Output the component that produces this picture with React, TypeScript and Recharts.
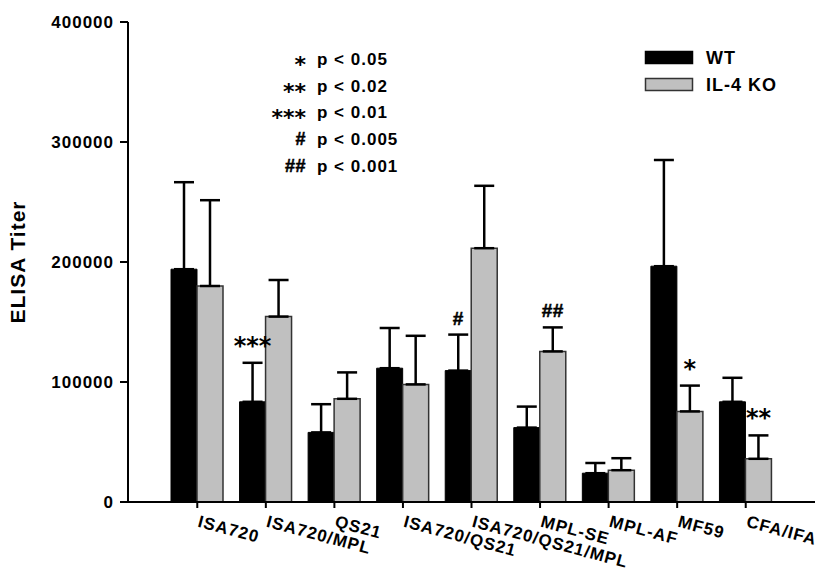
import { Bar, BarChart, ErrorBar, LabelList, XAxis, YAxis } from "recharts";

const categories = [
  "ISA720",
  "ISA720/MPL",
  "QS21",
  "ISA720/QS21",
  "ISA720/QS21/MPL",
  "MPL-SE",
  "MPL-AF",
  "MF59",
  "CFA/IFA",
];
const wtMean = [194000, 83500, 58000, 111500, 109500, 62000, 24000, 196500, 83500];
const wtErr = [72500, 32500, 23500, 33500, 30000, 17500, 8500, 88500, 20000];
const koMean = [180000, 154500, 86000, 98000, 211500, 125500, 26500, 75500, 36000];
const koErr = [71500, 30500, 22000, 40500, 52000, 20000, 10000, 21500, 19500];
const wtSig = ["", "***", "", "", "#", "", "", "", ""];
const koSig = ["", "", "", "", "", "##", "", "*", "**"];
const yTicks = [0, 100000, 200000, 300000, 400000];
const seriesNames = ["WT", "IL-4 KO"];
const seriesFill = ["#000", "#c0c0c0"];
const seriesStroke = ["#000", "#333"];
const keySymbols = ["*", "**", "***", "#", "##"];
const keyLabels = ["p < 0.05", "p < 0.02", "p < 0.01", "p < 0.005", "p < 0.001"];

const data = categories.map((name, i) => ({
  name,
  wt: wtMean[i],
  ko: koMean[i],
  wtErr: [0, wtErr[i]],
  koErr: [0, koErr[i]],
  wtSig: wtSig[i],
  koSig: koSig[i],
}));

const FONT = "'Liberation Sans', Arial, sans-serif";
const STAR_FONT = "'DejaVu Sans', sans-serif";

// marker above the error bar cap; pixel scale taken from the bar itself
function sigLabel(means: number[], errs: number[]) {
  return (props: any) => {
    const text = props.value;
    if (!text) return null;
    const vb = props.viewBox ?? props;
    const i = props.index;
    const top = Math.min(vb.y, vb.y + vb.height);
    const h = Math.abs(vb.height);
    const capY = top - errs[i] * (h / means[i]);
    const star = String(text).startsWith("*");
    return (
      <text
        x={vb.x + vb.width / 2}
        y={star ? capY - 9 : capY - 10}
        textAnchor="middle"
        fontFamily={star ? STAR_FONT : FONT}
        fontWeight="bold"
        fontSize={star ? 24 : 19}
        letterSpacing={star ? 0 : 0.5}
        stroke={star ? "none" : "#000"}
        strokeWidth={0.5}
        fill="#000"
      >
        {text}
      </text>
    );
  };
}

function XTick({ x, y, payload }: any) {
  return (
    <g transform={`translate(${x},${y})`}>
      <text
        transform="rotate(15)"
        x={4}
        y={16}
        textAnchor="start"
        fontFamily={FONT}
        fontWeight="bold"
        fontSize={17}
        letterSpacing={1}
        fill="#000"
      >
        {payload.value}
      </text>
    </g>
  );
}

function YLabel({ viewBox }: any) {
  const cy = viewBox.y + viewBox.height / 2;
  return (
    <text
      transform={`translate(25,${cy}) rotate(-90)`}
      textAnchor="middle"
      fontFamily={FONT}
      fontWeight="bold"
      fontSize={21}
      letterSpacing={1}
      fill="#000"
    >
      ELISA Titer
    </text>
  );
}

export default function App() {
  return (
    <div style={{ position: "relative", width: 831, height: 580, background: "#fff" }}>
      <style>{"body{margin:0}"}</style>
      <BarChart
        width={831}
        height={580}
        data={data}
        margin={{ top: 22, right: 16, bottom: 0, left: 0 }}
        barGap={0}
        barSize={26}
      >
        <XAxis
          dataKey="name"
          height={78}
          padding={{ left: 35, right: 35 }}
          interval={0}
          tickSize={6}
          tick={<XTick />}
          axisLine={{ stroke: "#000", strokeWidth: 2 }}
          tickLine={{ stroke: "#000", strokeWidth: 2 }}
        />
        <XAxis
          xAxisId="top"
          dataKey="name"
          orientation="top"
          height={0}
          tick={false}
          tickLine={false}
          axisLine={{ stroke: "#000", strokeWidth: 2 }}
        />
        <YAxis
          width={128}
          domain={[0, 400000]}
          ticks={yTicks}
          tickSize={8}
          tickMargin={6}
          axisLine={{ stroke: "#000", strokeWidth: 2 }}
          tickLine={{ stroke: "#000", strokeWidth: 2 }}
          tick={{ fill: "#000", fontSize: 17, fontWeight: "bold", fontFamily: FONT, letterSpacing: 1 }}
          label={{ content: <YLabel /> }}
        />
        <YAxis
          yAxisId="right"
          orientation="right"
          width={0}
          domain={[0, 400000]}
          tick={false}
          tickLine={false}
          axisLine={{ stroke: "#000", strokeWidth: 2 }}
        />
        <Bar dataKey="wt" name={seriesNames[0]} fill={seriesFill[0]} stroke={seriesStroke[0]} isAnimationActive={false}>
          <ErrorBar dataKey="wtErr" direction="y" width={10} stroke="#000" strokeWidth={2.5} />
          <LabelList dataKey="wtSig" content={sigLabel(wtMean, wtErr)} />
        </Bar>
        <Bar
          dataKey="ko"
          name={seriesNames[1]}
          fill={seriesFill[1]}
          stroke={seriesStroke[1]}
          strokeWidth={1.5}
          isAnimationActive={false}
        >
          <ErrorBar dataKey="koErr" direction="y" width={10} stroke="#000" strokeWidth={2.5} />
          <LabelList dataKey="koSig" content={sigLabel(koMean, koErr)} />
        </Bar>
      </BarChart>
      <svg
        width={831}
        height={580}
        style={{ position: "absolute", left: 0, top: 0, pointerEvents: "none" }}
      >
        {/* significance key */}
        {keyLabels.map((lab, i) => {
          const base = 65 + i * 26.7;
          const star = keySymbols[i].startsWith("*");
          return (
            <g key={lab} fontWeight="bold" fill="#000">
              <text
                x={306}
                y={star ? base + 7 : base}
                textAnchor="end"
                fontFamily={star ? STAR_FONT : FONT}
                fontSize={star ? 22 : 18}
                letterSpacing={star ? 0 : 0.5}
                stroke={star ? "none" : "#000"}
                strokeWidth={0.5}
              >
                {keySymbols[i]}
              </text>
              <text x={317} y={base} fontFamily={FONT} fontSize={17} letterSpacing={1}>
                {lab}
              </text>
            </g>
          );
        })}
        {/* series legend */}
        {seriesNames.map((nm, i) => (
          <g key={nm} fontFamily={FONT} fontWeight="bold">
            <rect
              x={645.5}
              y={51.5 + i * 27}
              width={47}
              height={12}
              fill={seriesFill[i]}
              stroke={seriesStroke[i]}
              strokeWidth={1.5}
            />
            <text x={706} y={64 + i * 27} fontSize={18} letterSpacing={1} fill="#000">
              {nm}
            </text>
          </g>
        ))}
      </svg>
    </div>
  );
}
